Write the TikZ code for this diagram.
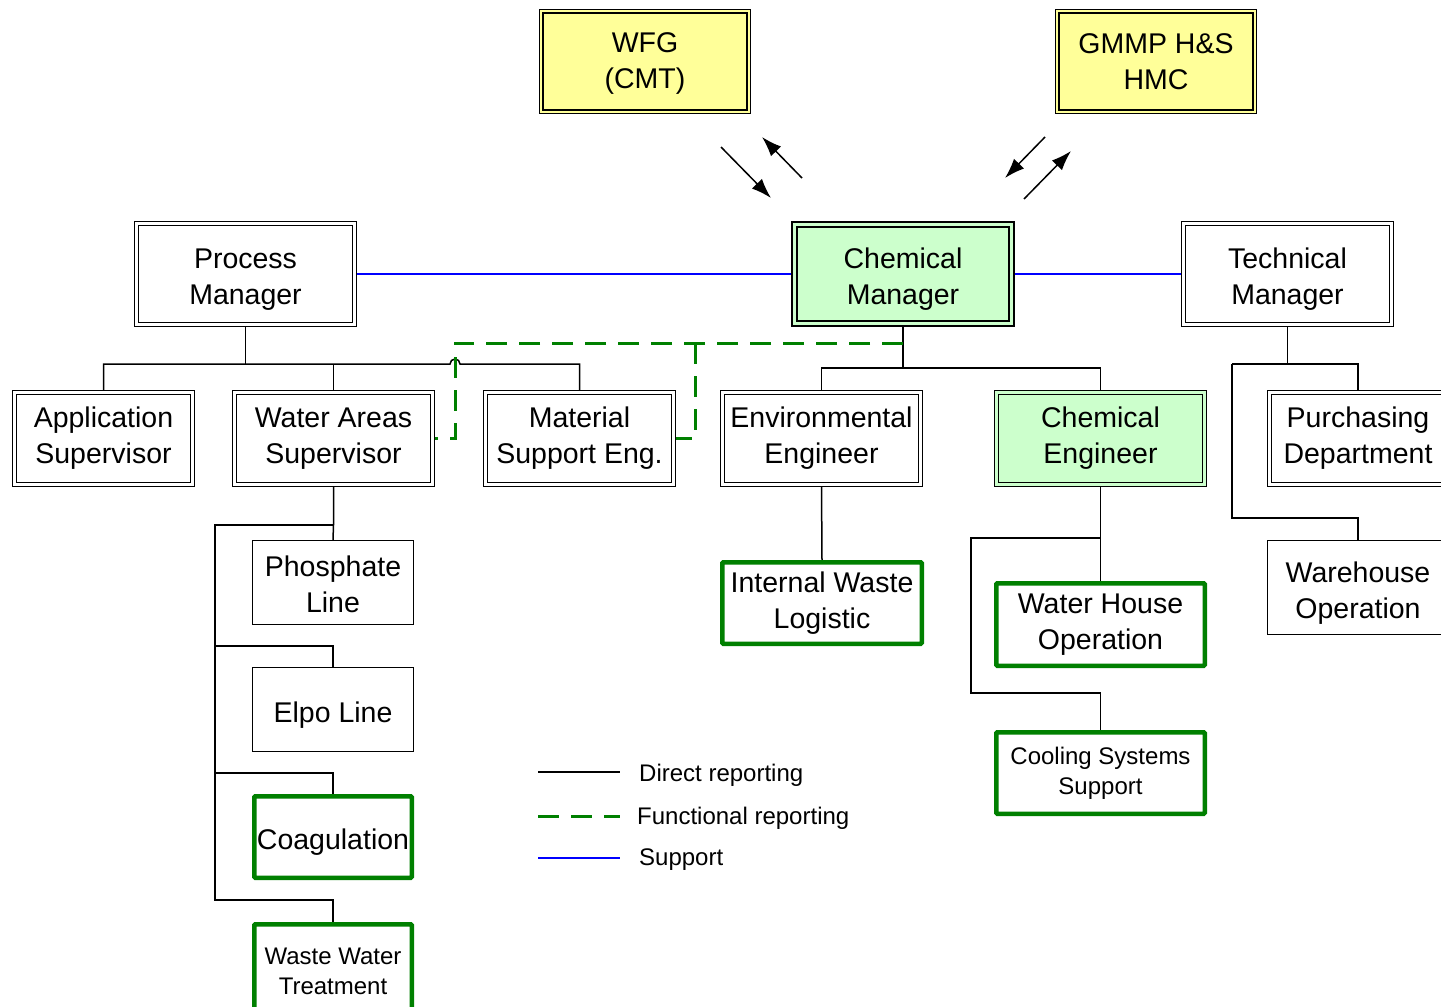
\documentclass[tikz,border=0pt]{standalone}
\usepackage{fontspec}
\setmainfont{Liberation Sans}
\usetikzlibrary{arrows.meta,backgrounds}
\definecolor{yel}{HTML}{FFFF99}
\definecolor{lgreen}{HTML}{CCFFCC}
\definecolor{dgreen}{HTML}{008000}
\definecolor{sblue}{HTML}{0000FF}
\begin{document}
\begin{tikzpicture}[x=1pt,y=-1pt,
  big/.style={font=\fontsize{28.5}{36}\selectfont},
  small/.style={font=\fontsize{24}{30}\selectfont},
  legtext/.style={font=\fontsize{24}{28}\selectfont, anchor=west, inner sep=0pt},
  lower/.style={execute at begin node={\rule{0pt}{#1}}},
  box/.style={align=center, inner sep=0pt, text=black},
  dbl/.style={box, big, draw=black, line width=1.2pt, double=white, double distance=2.4pt, fill=white},
  yelbox/.style={dbl, fill=yel, double=yel},
  mgr/.style={dbl, fill=lgreen, double=lgreen, line width=2pt, double distance=2.2pt},
  grnbox/.style={dbl, fill=lgreen, double=lgreen},
  thin/.style={box, big, draw=black, line width=1.3pt, fill=white},
  gbox/.style={box, big, draw=dgreen, line width=4.5pt, fill=white, rounded corners=1pt},
  conn/.style={draw=black, line width=1.5pt},
  func/.style={draw=dgreen, line width=3pt, dash pattern=on 21pt off 12pt},
  supp/.style={draw=sblue, line width=1.5pt},
  arr/.style={draw=black, line width=1.5pt, -{Latex[length=20pt,width=14pt]}}
]
\useasboundingbox (0,0) rectangle (1441,1007);

% top external boxes
\node[yelbox, lower=59.5pt, minimum width=207.5, minimum height=100.5] (wfg) at (645,61.5) {WFG\\(CMT)};
\node[yelbox, minimum width=197.5, minimum height=100.5] (gmmp) at (1156,61.5) {GMMP H\&S\\HMC};

% managers
\node[dbl, lower=67pt, minimum width=218, minimum height=101] (pm) at (245.5,274) {Process\\Manager};
\node[mgr, lower=67pt, minimum width=217, minimum height=99] (cm) at (903,274) {Chemical\\Manager};
\node[dbl, lower=67pt, minimum width=208, minimum height=101] (tm) at (1287.5,274) {Technical\\Manager};

% second level
\node[dbl, minimum width=178, minimum height=92] (as) at (103.5,438.5) {Application\\Supervisor};
\node[dbl, minimum width=198, minimum height=92] (wa) at (333.5,438.5) {Water Areas\\Supervisor};
\node[dbl, minimum width=188, minimum height=92] (mse) at (579.5,438.5) {Material\\Support Eng.};
\node[dbl, minimum width=198, minimum height=92] (ee) at (821.5,438.5) {Environmental\\Engineer};
\node[grnbox, minimum width=208, minimum height=92] (ce) at (1100.5,438.5) {Chemical\\Engineer};
\node[dbl, minimum width=177, minimum height=92] (pd) at (1358,438.5) {Purchasing\\Department};

% third level
\node[thin, lower=61pt, minimum width=160.7, minimum height=83.7] (ph) at (333,582.5) {Phosphate\\Line};
\node[thin, lower=32pt, minimum width=160.7, minimum height=83.7] (elpo) at (333,709.5) {Elpo Line};
\node[gbox, lower=31pt, minimum width=157.5, minimum height=81.5] (coag) at (333,837) {Coagulation};
\node[gbox, small, minimum width=157.5, minimum height=93.5] (wwt) at (333,971) {Waste Water\\Treatment};
\node[gbox, minimum width=199.5, minimum height=81.5] (iwl) at (822,603) {Internal Waste\\Logistic};
\node[gbox, minimum width=208.5, minimum height=82.5] (who) at (1100.5,624.5) {Water House\\Operation};
\node[gbox, small, minimum width=208.5, minimum height=81.5] (css) at (1100.5,773) {Cooling Systems\\Support};
\node[thin, lower=67pt, minimum width=180.7, minimum height=93.7] (wh) at (1358,587.5) {Warehouse\\Operation};

% helper coordinates
\coordinate (pmbus) at (245.5,364);
\coordinate (cmbus) at (903,368);
\coordinate (tmbus) at (1287.5,364);
\coordinate (tmleft) at (1232,364);
\coordinate (whbus) at (1232,518);
\coordinate (wabus) at (333.5,525);
\coordinate (waleft) at (215,525);
\coordinate (ceb) at (1100.5,538);
\coordinate (cel) at (971,538);
\coordinate (ceb2) at (971,693);
\coordinate (f0) at (903,343);
\coordinate (f1) at (455,343);
\coordinate (f2) at (455,438.5);
\coordinate (f3) at (695,343);
\coordinate (f4) at (695,438.5);

\begin{scope}[on background layer]
% process manager tree
\draw[conn] (pm.south) -- (pmbus);
\draw[conn] (as.north) -- (103.5,364) -- (450,364) arc[start angle=180, end angle=360, radius=5] -- (579.5,364) -- (mse.north);
\draw[conn] (wa.north) -- (333.5,364);
% chemical manager tree
\draw[conn] (cm.south) -- (cmbus);
\draw[conn] (ee.north) |- (cmbus) -| (ce.north);
% technical manager tree
\draw[conn] (tm.south) -- (tmbus);
\draw[conn] (tmleft) -| (pd.north);
\draw[conn] (tmleft) -- (whbus) -| (wh.north);
% water areas tree
\draw[conn] (wa.south) -- (wabus) -- (ph.north);
\draw[conn] (wabus) -- (waleft) -- (215,900) -| (wwt.north);
\draw[conn] (215,646) -| (elpo.north);
\draw[conn] (215,773) -| (coag.north);
% environmental / chemical engineer
\draw[conn] (ee.south) -- (iwl.north);
\draw[conn] (ce.south) -- (who.north);
\draw[conn] (ceb) -- (cel) -- (ceb2) -| (css.north);
% support lines
\draw[supp] (pm.east) -- (cm.west);
\draw[supp] (cm.east) -- (tm.west);
% functional reporting
\draw[func] (f0) -- (f1) -- (f2) -- (wa.east);
\draw[func] (f3) -- (f4) -- (mse.east);
\end{scope}

% exchange arrows
\coordinate (a1s) at (721,147); \coordinate (a1e) at (771,198);
\coordinate (a2s) at (802,178); \coordinate (a2e) at (762,137);
\coordinate (a3s) at (1045,137); \coordinate (a3e) at (1005,178);
\coordinate (a4s) at (1024,199); \coordinate (a4e) at (1071,151);
\draw[arr] (a1s) -- (a1e);
\draw[arr] (a2s) -- (a2e);
\draw[arr] (a3s) -- (a3e);
\draw[arr] (a4s) -- (a4e);

% legend
\coordinate (l1a) at (538,772); \coordinate (l1b) at (620,772);
\coordinate (l2a) at (538,816); \coordinate (l2b) at (620,816);
\coordinate (l3a) at (538,858); \coordinate (l3b) at (620,858);
\draw[conn] (l1a) -- (l1b);
\draw[func] (l2a) -- (l2b);
\draw[supp] (l3a) -- (l3b);
\node[legtext] (t1) at (639,775) {Direct reporting};
\node[legtext] (t2) at (637,818.5) {Functional reporting};
\node[legtext] (t3) at (639,860) {Support};
\end{tikzpicture}
\end{document}
